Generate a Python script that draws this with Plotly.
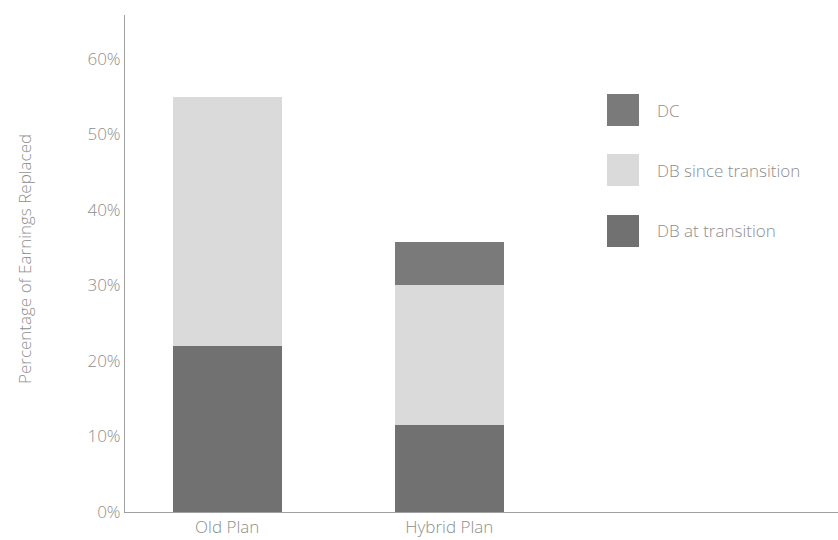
import plotly.graph_objects as go

# Retirement benefit composition by plan (percentage of earnings replaced)
plans = ["Old Plan", "Hybrid Plan"]
db_at_transition = [22.0, 11.5]
db_since_transition = [33.0, 18.6]
dc = [0.0, 5.6]

series = [
    ("DB at transition", db_at_transition, "#717171"),
    ("DB since transition", db_since_transition, "#dadada"),
    ("DC", dc, "#7a7a7a"),
]

tick_vals = [0, 10, 20, 30, 40, 50, 60]
tick_text = ["0%", "10%", "20%", "30%", "40%", "50%", "60%"]

FONT = "Open Sans"
TEXT_GRAY = "#8e8e8e"
FS = 17

W, H = 838, 540
ML, MR, MT, MB = 125, 0, 15, 28

fig = go.Figure()
for name, vals, color in series:
    fig.add_trace(go.Bar(
        x=plans, y=vals, name=name, width=0.49,
        marker=dict(color=color, line=dict(width=0)),
        showlegend=False,
    ))

# helpers: pixel position -> paper fraction of the plot area
pw = W - ML - MR
ph = H - MT - MB
def px(x):
    return (x - ML) / pw
def py(y):
    return (H - MB - y) / ph

def text_font(size=FS):
    return dict(family=FONT, size=size, color=TEXT_GRAY, weight=300)

shapes = []
annotations = []
legend_items = [("DC", "#7a7a7a", 110), ("DB since transition", "#dadada", 170),
                ("DB at transition", "#717171", 231)]
for label, color, cy in legend_items:
    shapes.append(dict(type="rect", xref="paper", yref="paper",
                       x0=px(607), x1=px(639), y0=py(cy + 16), y1=py(cy - 16),
                       fillcolor=color, line=dict(width=0)))
    annotations.append(dict(text=label, xref="paper", yref="paper",
                            x=px(655), y=py(cy), xanchor="left", yanchor="middle",
                            showarrow=False, font=text_font()))

# vertical axis title
annotations.append(dict(text="Percentage of Earnings Replaced", xref="paper", yref="paper",
                        x=px(24), y=py(259), xanchor="center", yanchor="middle",
                        textangle=-90, showarrow=False, font=text_font()))

fig.update_layout(
    width=W, height=H,
    margin=dict(l=ML, r=MR, t=MT, b=MB),
    barmode="stack",
    plot_bgcolor="white", paper_bgcolor="white",
    bargap=0,
    shapes=shapes,
    annotations=annotations,
    font=dict(family=FONT, color=TEXT_GRAY),
)
fig.update_xaxes(
    range=[-0.46, 2.75],
    showline=True, linecolor="#a0a0a0", linewidth=1,
    showgrid=False, ticks="",
    tickfont=text_font(),
)
fig.update_yaxes(
    range=[0, 65.8],
    tickvals=tick_vals, ticktext=tick_text,
    showline=True, linecolor="#a0a0a0", linewidth=1,
    showgrid=False, zeroline=False, ticks="", ticklabelstandoff=0,
    tickfont=text_font(),
)

fig.write_html("out.html")
